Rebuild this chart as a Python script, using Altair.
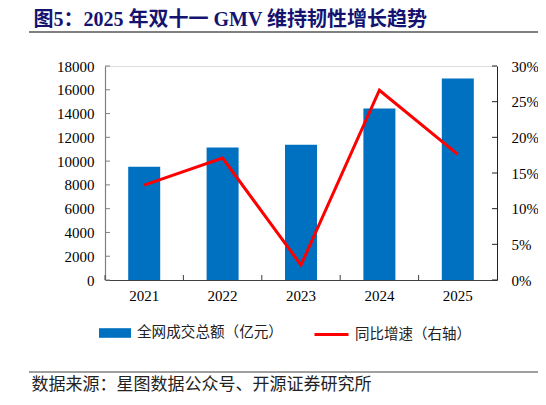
import altair as alt
import pandas as pd

years = ["2021", "2022", "2023", "2024", "2025"]
gmv = [9523, 11154, 11386, 14418, 16950]
growth = [13.3, 17.1, 2.1, 26.6, 17.6]
left_ticks = [0, 2000, 4000, 6000, 8000, 10000, 12000, 14000, 16000, 18000]
right_ticks = [0, 5, 10, 15, 20, 25, 30]
bar_label = "全网成交总额（亿元）"
line_label = "同比增速（右轴）"
title_text = "图5：2025 年双十一 GMV 维持韧性增长趋势"
source_text = "数据来源：星图数据公众号、开源证券研究所"

W, H = 392, 214
SERIF = "Liberation Serif"
CJK = "Liberation Serif, Noto Sans CJK SC"

df = pd.DataFrame({"year": years, "gmv": gmv, "growth": growth,
                   "s1": bar_label, "s2": line_label})
lt = pd.DataFrame({"v": left_ticks})
rt = pd.DataFrame({"v": right_ticks})
xt = pd.DataFrame({"year": years})

xscale = alt.Scale(domain=years, paddingInner=0, paddingOuter=0)
yl = alt.Scale(domain=[0, 18000], nice=False, zero=True)
yr = alt.Scale(domain=[0, 30], nice=False, zero=True)

xaxis = alt.Axis(title=source_text, titleX=-74, titleY=104, titleAlign="left",
                 titleBaseline="middle", titleAnchor="start",
                 titleFont="Noto Sans CJK SC", titleFontSize=17,
                 titleFontWeight="normal", titleColor="#222",
                 ticks=False, labelFont=SERIF, labelFontSize=15,
                 labelColor="#000", labelPadding=8, domainColor="#404040",
                 domainWidth=1, labelAngle=0)

bars = alt.Chart(df).mark_bar(size=32).encode(
    x=alt.X("year:N", scale=xscale, axis=xaxis),
    y=alt.Y("gmv:Q", scale=yl, axis=alt.Axis(
        orient="left", title=title_text, titleX=-72, titleY=-47, titleAngle=0,
        titleAlign="left", titleBaseline="middle", titleAnchor="start",
        titleFont=CJK, titleFontSize=20, titleFontWeight="bold",
        titleColor="#141470",
        values=left_ticks, ticks=False, grid=False, format="d",
        labelFont=SERIF, labelFontSize=15, labelColor="#000", labelPadding=11,
        domainColor="#808080", domainWidth=1.2)),
    color=alt.Color("s1:N", scale=alt.Scale(domain=[bar_label], range=["#0070C0"]),
                    legend=alt.Legend(orient="none", legendX=-6, legendY=251,
                                      title=None, padding=0,
                                      symbolType="M-1,-0.3L1,-0.3L1,0.3L-1,0.3Z",
                                      symbolSize=1024, symbolStrokeWidth=0,
                                      labelOffset=6, labelFont="Noto Sans CJK SC",
                                      labelFontSize=14.6, labelColor="#222")),
)

lticks = alt.Chart(lt).mark_rule(color="#808080", strokeWidth=1).encode(
    y=alt.Y("v:Q", scale=yl, axis=None),
    x=alt.value(0), x2=alt.value(5),
)

xticks = alt.Chart(xt).mark_rule(color="#404040", strokeWidth=1).encode(
    x=alt.X("year:N", scale=xscale, bandPosition=0, axis=xaxis),
    y=alt.value(H - 5), y2=alt.value(H),
)

line = alt.Chart(df).mark_line(strokeWidth=3).encode(
    x=alt.X("year:N", scale=xscale, axis=xaxis),
    y=alt.Y("growth:Q", scale=yr, axis=alt.Axis(
        orient="right", title=None, values=right_ticks, ticks=False, grid=False,
        labelExpr="datum.value + '%'",
        labelFont=SERIF, labelFontSize=15, labelColor="#000", labelPadding=14,
        domainColor="#222", domainWidth=1)),
    stroke=alt.Stroke("s2:N", scale=alt.Scale(domain=[line_label], range=["#FF0000"]),
                      legend=alt.Legend(orient="none", legendX=208, legendY=250,
                                        title=None, padding=0, symbolType="stroke",
                                        symbolSize=1156, symbolStrokeWidth=3,
                                        labelOffset=5, labelFont="Noto Sans CJK SC",
                                        labelFontSize=14.5, labelColor="#222")),
)

rticks = alt.Chart(rt).mark_rule(color="#222", strokeWidth=1).encode(
    y=alt.Y("v:Q", scale=yr, axis=None),
    x=alt.value(W - 5), x2=alt.value(W),
)

deco = pd.DataFrame({"k": [0]})
top_rule = alt.Chart(deco).mark_rule(color="#808080", strokeWidth=2).encode(
    x=alt.value(-76), x2=alt.value(441), y=alt.value(-34))
bot_rule = alt.Chart(deco).mark_rule(color="#404040", strokeWidth=1).encode(
    x=alt.value(-76), x2=alt.value(441), y=alt.value(306))

chart = alt.layer(
    bars, lticks, xticks, line, rticks, top_rule, bot_rule
).resolve_scale(y="independent").properties(
    width=W, height=H,
    autosize=alt.AutoSizeParams(type="none"),
    padding={"left": 97, "top": 58, "right": 41, "bottom": 117},
).configure_view(stroke=None).configure(background="white")

chart.save("out.html", embed_options={"renderer": "svg", "actions": False})
